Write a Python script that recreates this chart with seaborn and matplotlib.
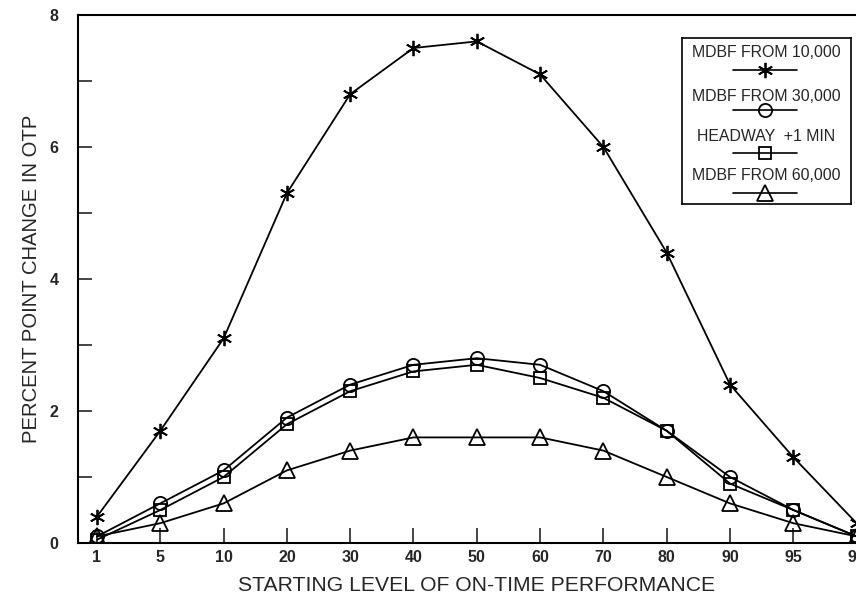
import numpy as np
import matplotlib
matplotlib.use("Agg")
import matplotlib.pyplot as plt
import seaborn as sns
import pandas as pd

# ---- data ----
levels = ["1", "5", "10", "20", "30", "40", "50", "60", "70", "80", "90", "95", "99"]
mdbf_10000 = [0.4, 1.7, 3.1, 5.3, 6.8, 7.5, 7.6, 7.1, 6.0, 4.4, 2.4, 1.3, 0.3]
mdbf_30000 = [0.1, 0.6, 1.1, 1.9, 2.4, 2.7, 2.8, 2.7, 2.3, 1.7, 1.0, 0.5, 0.1]
headway_1 = [0.05, 0.5, 1.0, 1.8, 2.3, 2.6, 2.7, 2.5, 2.2, 1.7, 0.9, 0.5, 0.1]
mdbf_60000 = [0.1, 0.3, 0.6, 1.1, 1.4, 1.6, 1.6, 1.6, 1.4, 1.0, 0.6, 0.3, 0.1]
series_names = ["MDBF FROM 10,000", "MDBF FROM 30,000", "HEADWAY  +1 MIN", "MDBF FROM 60,000"]
series_vals = [mdbf_10000, mdbf_30000, headway_1, mdbf_60000]
y_ticks = [0, 2, 4, 6, 8]

sns.set_style("ticks")
plt.rcParams['font.family'] = ['Liberation Sans', 'DejaVu Sans']

asterisk = (6, 2, 0)
markers = [asterisk, "o", "s", "^"]
msizes = [11, 9.5, 8, 11]

fig = plt.figure(figsize=(8.56, 6.11), dpi=100)
W, H = 856, 611
ax = fig.add_axes([78 / W, 1 - 543 / H, 797.6 / W, 528 / H])

pos = np.arange(len(levels))
for name, vals, mk, ms in zip(series_names, series_vals, markers, msizes):
    df = pd.DataFrame({"x": pos, "y": vals})
    sns.lineplot(data=df, x="x", y="y", ax=ax, color="black", linewidth=1.3,
                 marker=mk, markersize=ms, markerfacecolor="none" if mk != asterisk else "black",
                 markeredgecolor="black", markeredgewidth=1.3, zorder=3)

ax.set_xlim(-0.3, 12.3)
ax.set_ylim(0, 8)
ax.set_xticks(pos)
ax.set_xticklabels(levels, fontsize=11.5, fontweight="bold")
ax.set_yticks(y_ticks)
ax.set_yticklabels([str(t) for t in y_ticks], fontsize=11.5, fontweight="bold")
ax.set_yticks([1, 3, 5, 7], minor=True)
ax.tick_params(axis="x", direction="in", length=11, width=1.2, pad=5)
ax.tick_params(axis="y", which="major", direction="in", length=10, width=1.2, pad=14)
ax.tick_params(axis="y", which="minor", direction="in", length=10, width=1.2)
for s in ax.spines.values():
    s.set_linewidth(1.5)
    s.set_color("black")
ax.set_xlabel("STARTING LEVEL OF ON-TIME PERFORMANCE", fontsize=15.2, labelpad=8)
ax.set_ylabel("PERCENT POINT CHANGE IN OTP", fontsize=14.6, labelpad=6)

# ---- custom legend (label above sample line) ----
lx0, lx1, ly0, ly1 = 682, 851, 38, 204
lax = fig.add_axes([lx0 / W, 1 - ly1 / H, (lx1 - lx0) / W, (ly1 - ly0) / H])
lax.set_xlim(lx0, lx1)
lax.set_ylim(ly1, ly0)
lax.set_xticks([])
lax.set_yticks([])
for s in lax.spines.values():
    s.set_linewidth(1.2)
    s.set_color("black")
text_y = [53, 97, 137, 176]
line_y = [70, 110, 153, 193]
for name, mk, ms, ty, lyy in zip(series_names, markers, msizes, text_y, line_y):
    lax.text(766, ty, name, ha="center", va="center", fontsize=11.4)
    lax.plot([733, 797], [lyy, lyy], color="black", linewidth=1.2)
    lax.plot([765], [lyy], marker=mk, markersize=ms, color="black",
             markerfacecolor="none" if mk != asterisk else "black",
             markeredgewidth=1.3, linestyle="none")

fig.savefig("out.png", dpi=100)
